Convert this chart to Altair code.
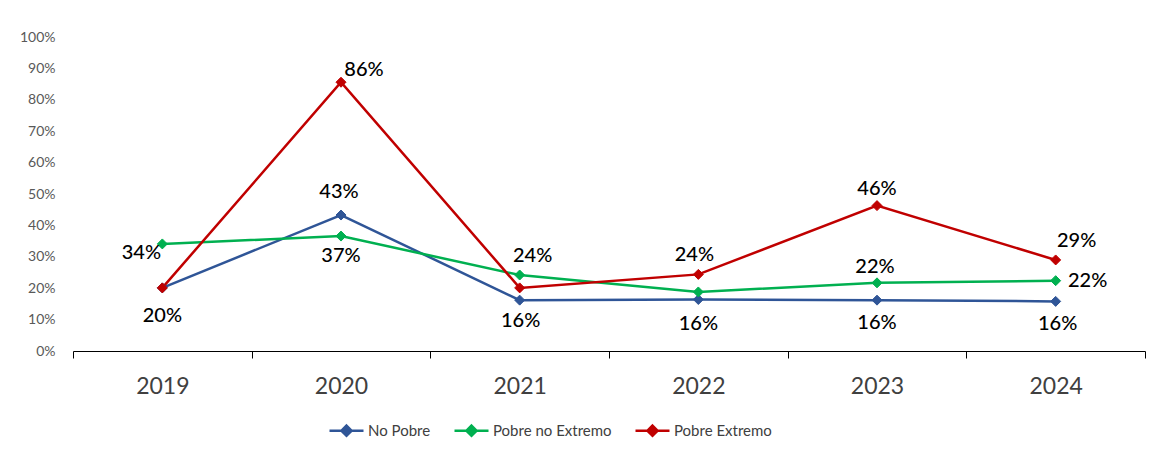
import altair as alt
import pandas as pd

# ---------------- data ----------------
years = ["2019", "2020", "2021", "2022", "2023", "2024"]
series_names = ["No Pobre", "Pobre no Extremo", "Pobre Extremo"]
no_pobre = [0.201, 0.433, 0.162, 0.164, 0.162, 0.158]
pobre_no_extremo = [0.341, 0.366, 0.242, 0.188, 0.217, 0.224]
pobre_extremo = [0.201, 0.856, 0.201, 0.244, 0.463, 0.290]
y_ticks = [0.0, 0.1, 0.2, 0.3, 0.4, 0.5, 0.6, 0.7, 0.8, 0.9, 1.0]

colors = ["#2F5597", "#00B050", "#C00000"]

rows = []
for name, vals in zip(series_names, [no_pobre, pobre_no_extremo, pobre_extremo]):
    for yr, v in zip(years, vals):
        rows.append({"year": yr, "serie": name, "value": v})
df = pd.DataFrame(rows)

# which data labels are shown, with their pixel nudges (styling)
label_nudges = [
    ("Pobre no Extremo", "2019", -21, 9),
    ("No Pobre", "2019", 0, 28),
    ("No Pobre", "2020", -2, -23),
    ("Pobre no Extremo", "2020", 0, 20),
    ("Pobre Extremo", "2020", 23, -12),
    ("Pobre no Extremo", "2021", 13, -19),
    ("No Pobre", "2021", 1, 21),
    ("Pobre Extremo", "2022", -4, -19),
    ("No Pobre", "2022", 0, 24),
    ("Pobre Extremo", "2023", 0, -17),
    ("Pobre no Extremo", "2023", -2, -16),
    ("No Pobre", "2023", 0, 23),
    ("Pobre Extremo", "2024", 21, -19),
    ("Pobre no Extremo", "2024", 32, 0),
    ("No Pobre", "2024", 2, 23),
]

FONT = "Lato"
color_scale = alt.Scale(domain=series_names, range=colors)
legend_symbol = "M-1,0L1,0M0,-0.3L0.3,0L0,0.3L-0.3,0Z"


def make_legend():
    return alt.Legend(
        title=None,
        orient="none",
        legendX=255,
        legendY=375,
        direction="horizontal",
        symbolType=legend_symbol,
        symbolSize=1156,
        symbolStrokeWidth=2.5,
        labelFont=FONT,
        labelFontSize=15,
        labelColor="#404040",
        labelOffset=3,
        columnPadding=18,
    )


x_enc = alt.X(
    "year:N",
    sort=years,
    scale=alt.Scale(type="band", paddingInner=0, paddingOuter=0),
    axis=alt.Axis(
        title=None,
        tickBand="extent",
        domainColor="#000000",
        tickColor="#000000",
        tickSize=7,
        domainWidth=1,
        tickWidth=1,
        labelFont=FONT,
        labelFontSize=23,
        labelColor="#404040",
        labelPadding=17,
        labelAngle=0,
        grid=False,
    ),
)
y_enc = alt.Y(
    "value:Q",
    scale=alt.Scale(domain=[0, 1], nice=False, zero=True),
    axis=alt.Axis(
        title=None,
        values=y_ticks,
        format=".0%",
        domain=False,
        ticks=False,
        grid=False,
        labelFont=FONT,
        labelFontSize=14,
        labelColor="#595959",
        labelPadding=18,
    ),
)

base = alt.Chart(df)

lines = base.mark_line(strokeWidth=2.5).encode(
    x=x_enc,
    y=y_enc,
    stroke=alt.Stroke("serie:N", scale=color_scale, sort=series_names, legend=make_legend()),
    detail="serie:N",
)

points = base.mark_point(shape="diamond", size=100, opacity=1, strokeWidth=1).encode(
    x=x_enc,
    y=y_enc,
    stroke=alt.Stroke("serie:N", scale=color_scale, sort=series_names, legend=make_legend()),
    fill=alt.Fill("serie:N", scale=color_scale, sort=series_names, legend=make_legend()),
)

text_layers = []
for serie, yr, dx, dy in label_nudges:
    t = (
        base.transform_filter(
            (alt.datum.serie == serie) & (alt.datum.year == yr)
        )
        .mark_text(
            font=FONT,
            fontSize=20,
            fontWeight=500,
            color="#000000",
            align="center",
            baseline="middle",
            dx=dx,
            dy=dy,
        )
        .encode(x=x_enc, y=y_enc, text=alt.Text("value:Q", format=".0%"))
    )
    text_layers.append(t)

chart = (
    alt.layer(lines, points, *text_layers)
    .properties(
        width=1072,
        height=314,
        background="white",
        autosize=alt.AutoSizeParams(type="none"),
        padding={"left": 65, "top": 29, "right": 2, "bottom": 94},
    )
    .configure_view(strokeWidth=0, strokeOpacity=0)
)

chart.save("out.html", embed_options={"renderer": "svg", "actions": False})
